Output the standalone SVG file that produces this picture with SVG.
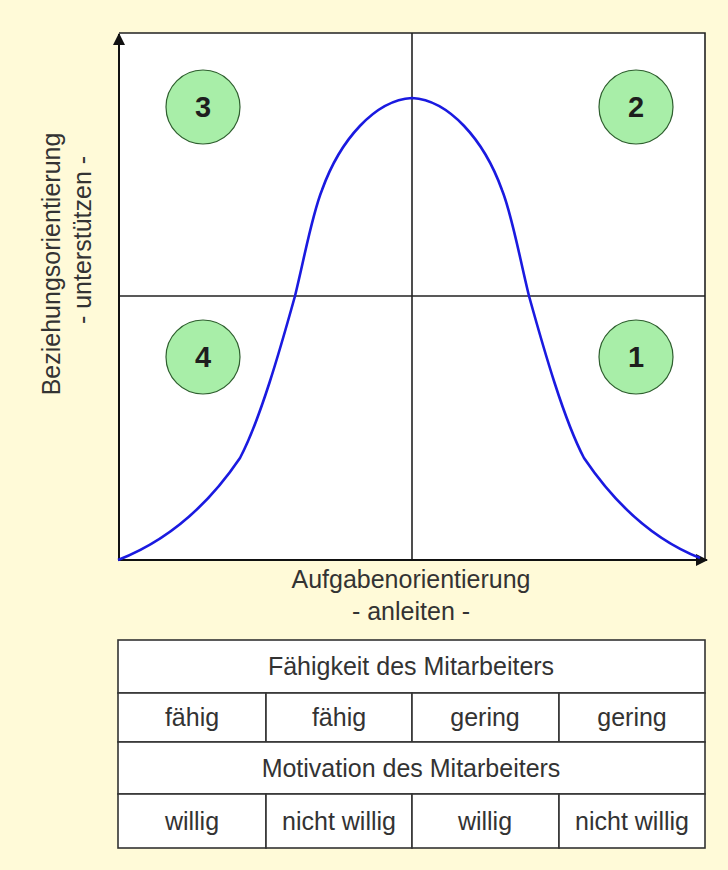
<svg xmlns="http://www.w3.org/2000/svg" width="728" height="870" viewBox="0 0 728 870">
<defs>
<style>
.lbl{font-family:"Liberation Sans",Arial,sans-serif;font-size:25px;fill:#333;text-anchor:middle}
.num{font-family:"Liberation Sans",Arial,sans-serif;font-size:29px;font-weight:bold;fill:#1e1e1e;text-anchor:middle}
.circ{fill:#a8eea8;stroke:#2f5f2f;stroke-width:1.2}
.cell{fill:#fff;stroke:#333;stroke-width:1.6}
.ax{stroke:#111;stroke-width:2;fill:none}
.qd{stroke:#222;stroke-width:1.6;fill:none}
</style>
<marker id="arr" viewBox="0 0 12 12" refX="11" refY="6" markerWidth="12" markerHeight="12" markerUnits="userSpaceOnUse" orient="auto">
<path d="M0,0 L12,6 L0,12 z" fill="#111"/>
</marker>
</defs>
<rect width="728" height="870" fill="#fffad8"/>
<g id="plot">
<rect x="119" y="33" width="586" height="527" fill="#fff"/>
<path class="qd" d="M119,33 H705 V560"/>
<line class="qd" x1="412" y1="33" x2="412" y2="560"/>
<line class="qd" x1="119" y1="296" x2="705" y2="296"/>
</g>
<g id="connectors">
<line class="ax" x1="119" y1="560" x2="119" y2="34" marker-end="url(#arr)"/>
<line class="ax" x1="118" y1="560" x2="707" y2="560" marker-end="url(#arr)"/>
</g>
<g id="curve">
<path d="M118,560 Q190,532 240,458 C260,420 280,350 295,296 C305,255 312,215 322,190 C340,140 375,100 412,98 C449,100 484,140 502,190 C512,215 519,255 529,296 C544,350 564,420 584,458 Q634,532 700,558" fill="none" stroke="#1a1ae0" stroke-width="2.6"/>
</g>
<g id="q3"><circle class="circ" cx="203" cy="107" r="37"/><text class="num" x="203" y="117">3</text></g>
<g id="q2"><circle class="circ" cx="636" cy="107" r="37"/><text class="num" x="636" y="117">2</text></g>
<g id="q4"><circle class="circ" cx="203" cy="357" r="37"/><text class="num" x="203" y="367">4</text></g>
<g id="q1"><circle class="circ" cx="636" cy="357" r="37"/><text class="num" x="636" y="367">1</text></g>
<g id="xlabel">
<text class="lbl" x="411" y="588">Aufgabenorientierung</text>
<text class="lbl" x="411" y="620">- anleiten -</text>
</g>
<g id="ylabel">
<text class="lbl" transform="translate(60,264) rotate(-90)">Beziehungsorientierung</text>
<text class="lbl" transform="translate(91,240) rotate(-90)">- unterstützen -</text>
</g>
<g id="table">
<rect class="cell" x="118" y="640" width="587" height="53"/>
<rect class="cell" x="118" y="693" width="148" height="49"/>
<rect class="cell" x="266" y="693" width="146" height="49"/>
<rect class="cell" x="412" y="693" width="147" height="49"/>
<rect class="cell" x="559" y="693" width="146" height="49"/>
<rect class="cell" x="118" y="742" width="587" height="52"/>
<rect class="cell" x="118" y="794" width="148" height="54"/>
<rect class="cell" x="266" y="794" width="146" height="54"/>
<rect class="cell" x="412" y="794" width="147" height="54"/>
<rect class="cell" x="559" y="794" width="146" height="54"/>
<text class="lbl" x="411" y="675">Fähigkeit des Mitarbeiters</text>
<text class="lbl" x="192" y="726">fähig</text>
<text class="lbl" x="339" y="726">fähig</text>
<text class="lbl" x="485" y="726">gering</text>
<text class="lbl" x="632" y="726">gering</text>
<text class="lbl" x="411" y="777">Motivation des Mitarbeiters</text>
<text class="lbl" x="192" y="830">willig</text>
<text class="lbl" x="339" y="830">nicht willig</text>
<text class="lbl" x="485" y="830">willig</text>
<text class="lbl" x="632" y="830">nicht willig</text>
</g>
</svg>
